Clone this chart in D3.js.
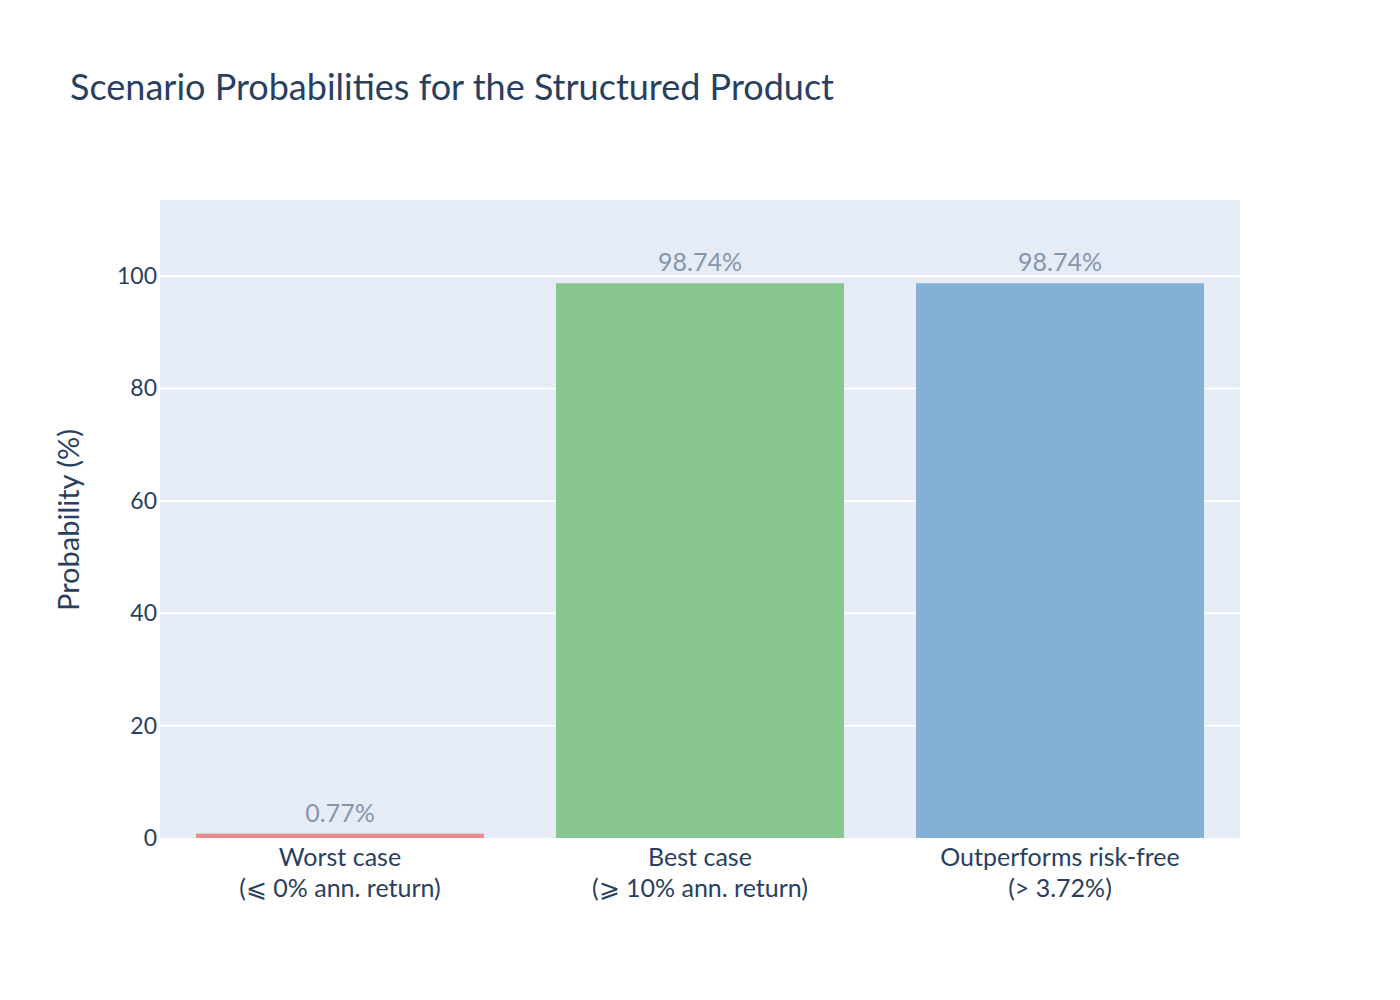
<!DOCTYPE html>
<html><head><meta charset="utf-8">
<script src="https://cdn.jsdelivr.net/npm/d3@7"></script>
<style>body{margin:0;background:#fff;} text{font-family:Lato,"Noto Sans",sans-serif;}</style>
</head><body><svg id="c" width="1400" height="1000"></svg>
<script>
const categories = ["Worst case|(⩽ 0% ann. return)", "Best case|(⩾ 10% ann. return)", "Outperforms risk-free|(> 3.72%)"];
const values = [0.77, 98.74, 98.74];
const labels = ["0.77%", "98.74%", "98.74%"];
const colors = ["#e98a8d", "#88c690", "#83b0d4"];
const yTicks = [0, 20, 40, 60, 80, 100];

const svg = d3.select("#c");
const L = 160, R = 1240, T = 200, B = 838;
const x = d3.scaleBand().domain(categories).range([L, R]).paddingInner(0.2).paddingOuter(0.1);
const y = d3.scaleLinear().domain([0, d3.max(values) * 1.15]).range([B, T]);

svg.append("rect").attr("x", L).attr("y", T).attr("width", R - L).attr("height", B - T).attr("fill", "#e5ecf6");

svg.append("g").selectAll("line").data(yTicks.filter(d => d > 0)).join("line")
  .attr("x1", L).attr("x2", R).attr("y1", d => y(d)).attr("y2", d => y(d))
  .attr("stroke", "#fff").attr("stroke-width", 2);

const yAxis = svg.append("g").attr("transform", `translate(${L},0)`)
  .call(d3.axisLeft(y).tickValues(yTicks).tickSize(0).tickPadding(3));
yAxis.select(".domain").remove();
yAxis.selectAll("text").attr("font-size", 23).attr("fill", "#2a3f5f").style("font-family", "Lato,'Noto Sans',sans-serif");

svg.append("g").selectAll("rect").data(values).join("rect")
  .attr("x", (d, i) => x(categories[i])).attr("width", x.bandwidth())
  .attr("y", d => y(d)).attr("height", d => B - y(d))
  .attr("fill", (d, i) => colors[i]);

svg.append("g").selectAll("text").data(values).join("text")
  .attr("x", (d, i) => x(categories[i]) + x.bandwidth() / 2)
  .attr("y", d => y(d) - 12)
  .attr("text-anchor", "middle").attr("font-size", 25).attr("fill", "#8795aa")
  .text((d, i) => labels[i]);

const xl = svg.append("g").selectAll("text").data(categories).join("text")
  .attr("text-anchor", "middle").attr("font-size", 25).attr("fill", "#2a3f5f");
xl.each(function(d) {
  const parts = d.split("|");
  const cx = x(d) + x.bandwidth() / 2;
  d3.select(this).selectAll("tspan").data(parts).join("tspan")
    .attr("x", cx).attr("y", (p, j) => 866 + j * 31).text(p => p);
});

svg.append("text").attr("transform", "translate(79,520) rotate(-90)")
  .attr("text-anchor", "middle").attr("font-size", 29).attr("fill", "#2a3f5f").text("Probability (%)");

svg.append("text").attr("x", 70).attr("y", 100).attr("font-size", 36).attr("fill", "#2a3f5f")
  .text("Scenario Probabilities for the Structured Product");
</script></body></html>
